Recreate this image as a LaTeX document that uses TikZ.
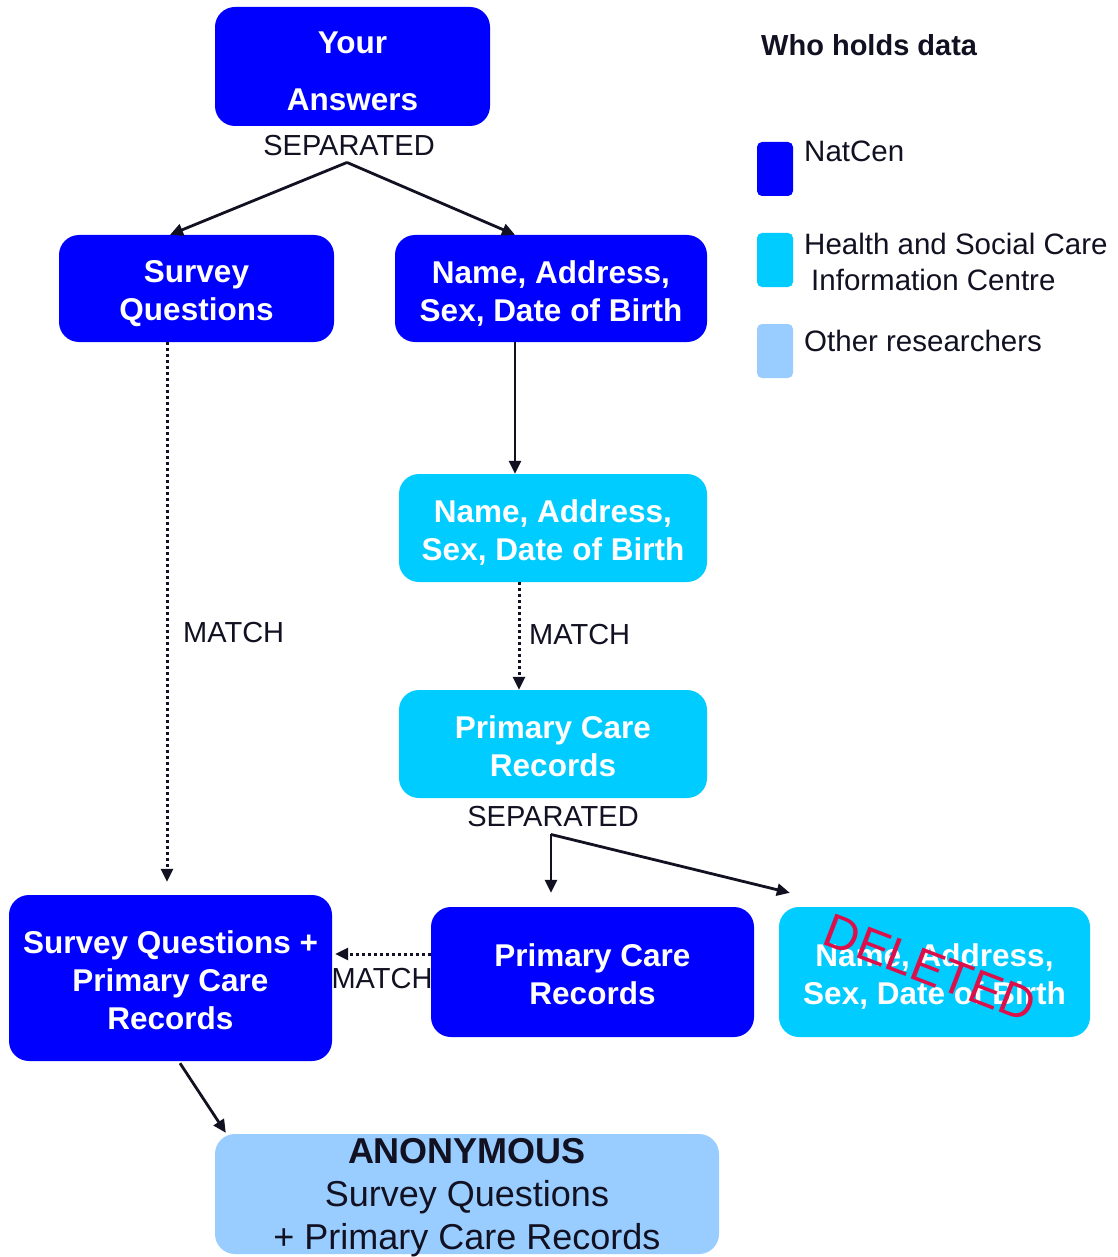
\documentclass[tikz,border=0pt]{standalone}
\usepackage{fontspec}
\setmainfont{Liberation Sans}
\usetikzlibrary{arrows.meta,calc}
\definecolor{natblue}{HTML}{0000FF}
\definecolor{hscic}{HTML}{00CCFF}
\definecolor{otherres}{HTML}{99CCFF}
\definecolor{ink}{HTML}{111122}
\definecolor{delred}{HTML}{DC0F4B}
\newcommand\bxstrut{\rule{0pt}{32pt}}
\begin{document}
\begin{tikzpicture}[x=1pt,y=-1pt,
  box/.style={rounded corners=20pt, inner sep=0pt, align=center, text=white, font=\bfseries\fontsize{31.5}{38}\selectfont},
  nbox/.style={box, fill=natblue},
  hbox/.style={box, fill=hscic},
  lbl/.style={text=ink, font=\fontsize{29}{34}\selectfont, inner sep=0pt},
  arr/.style={draw=ink, line width=2.8pt, -{Triangle[length=13pt,width=12pt]}},
  dotarr/.style={arr, line width=3pt, dash pattern=on 3pt off 3pt},
  legsq/.style={rounded corners=5pt, minimum width=36pt, minimum height=54pt, inner sep=0pt}
]
\useasboundingbox (0,0) rectangle (1117,1257);
\fill[white] (0,0) rectangle (1117,1257);

% boxes
\node[nbox, minimum width=275pt, minimum height=119pt, font=\bfseries\fontsize{31.5}{57}\selectfont] (ans) at (352.5,66.5) {\bxstrut Your\\Answers};
\node[nbox, minimum width=275pt, minimum height=107pt] (sq) at (196.5,288.5) {\bxstrut Survey\\Questions};
\node[nbox, minimum width=312pt, minimum height=107pt] (nat1) at (551,288.5) {\bxstrut Name, Address,\\Sex, Date of Birth};
\node[hbox, minimum width=308pt, minimum height=108pt] (hs1) at (553,528) {\bxstrut Name, Address,\\Sex, Date of Birth};
\node[hbox, minimum width=308pt, minimum height=108pt] (hs2) at (553,744) {\rule{0pt}{28pt}Primary Care\\Records};
\node[nbox, minimum width=323pt, minimum height=166pt] (sqpc) at (170.5,978) {\rule{0pt}{28pt}Survey Questions +\\Primary Care\\Records};
\node[nbox, minimum width=323pt, minimum height=130pt] (pc) at (592.5,972) {\rule{0pt}{28pt}Primary Care\\Records};
\node[hbox, minimum width=311pt, minimum height=130pt] (del) at (934.5,972) {\bxstrut Name, Address,\\Sex, Date of Birth};
\node[rotate=-21, text=delred, inner sep=0pt, font=\fontsize{48}{48}\selectfont] (delmark) at (930,968) {DELETED};
\node[box, fill=otherres, minimum width=504pt, minimum height=120pt] (anon) at (467,1194) {};
\node[text=ink, inner sep=0pt, align=center, font=\fontsize{36}{43}\selectfont] (anontext) at (467,1198) {\textbf{ANONYMOUS}\\Survey Questions\\+ Primary Care Records};

% labels
\node[lbl] (sep1) at (349,146) {SEPARATED};
\node[lbl] (sep2) at (553,817) {SEPARATED};
\node[lbl, anchor=west] (m1) at (183,633) {MATCH};
\node[lbl, anchor=west] (m2) at (529,635) {MATCH};
\node[lbl] (m3) at (382,979) {MATCH};

% connectors
\coordinate (s1) at ($(sep1.south)+(-2,6)$);
\draw[arr] (s1) -- ($(sq.north)+(-26.5,0)$);
\draw[arr] (s1) -- ($(nat1.north)+(-36,0)$);
\draw[arr] ($(nat1.south)+(-36,0)$) -- ($(hs1.north)+(-38,0)$);
\draw[dotarr] ($(hs1.south)+(-34,0)$) -- ($(hs2.north)+(-34,0)$);
\draw[dotarr] ($(sq.south)+(-29.5,0)$) -- ($(sqpc.north)+(-3.5,-13)$);
\coordinate (s2) at ($(sep2.south)+(-2,7)$);
\draw[arr] (s2) -- ($(pc.north)+(-41.5,-14)$);
\draw[arr] (s2) -- ($(del.north west)+(11,-14)$);
\draw[dotarr] ($(pc.west)+(0,-18)$) -- ($(sqpc.east)+(3,-24)$);
\draw[arr] ($(sqpc.south)+(9.5,2)$) -- ($(anon.north west)+(11,-1)$);

% legend
\node[text=ink, anchor=west, inner sep=0pt, font=\bfseries\fontsize{29}{34}\selectfont] (legt) at (761,45) {Who holds data};
\node[legsq, fill=natblue] (lg1) at (775,169) {};
\node[legsq, fill=hscic] (lg2) at (775,260) {};
\node[legsq, fill=otherres] (lg3) at (775,351) {};
\node[lbl, anchor=west, font=\fontsize{29.5}{34}\selectfont] (lt1) at (804,151) {NatCen};
\node[lbl, anchor=west, align=left, font=\fontsize{29.5}{36}\selectfont] (lt2) at (804,262) {Health and Social Care\\\hspace*{7pt}Information Centre};
\node[lbl, anchor=west, font=\fontsize{29.5}{34}\selectfont] (lt3) at (804,341) {Other researchers};
\end{tikzpicture}
\end{document}
